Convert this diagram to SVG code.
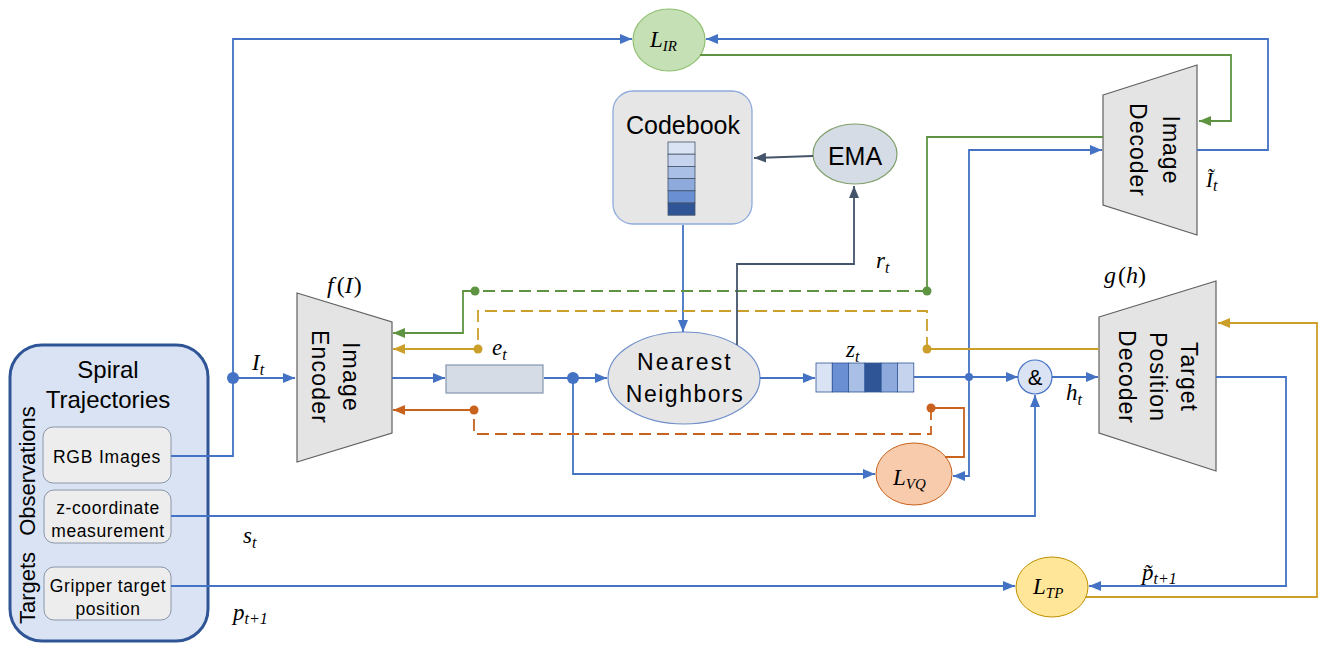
<svg xmlns="http://www.w3.org/2000/svg" width="1319" height="646" viewBox="0 0 1319 646">
<style>
.sans{font-family:"Liberation Sans",Arial,sans-serif;fill:#000}
.m{font-family:"Liberation Serif","Times New Roman",serif;font-style:italic;fill:#000}
.n{font-style:normal}
.b{fill:none;stroke:#4472c4;stroke-width:1.8}
.g{fill:none;stroke:#5e9441;stroke-width:1.8}
.y{fill:none;stroke:#cc9e2a;stroke-width:1.8}
.o{fill:none;stroke:#c8621c;stroke-width:1.8}
.k{fill:none;stroke:#44546a;stroke-width:1.8}
.d{stroke-dasharray:12 6}
.trap{fill:#e4e4e4;stroke:#606060;stroke-width:1.2}
.inbox{fill:#ededed;stroke:#8a96a8;stroke-width:1}
</style>
<defs>
<marker id="ab" markerUnits="userSpaceOnUse" markerWidth="12" markerHeight="10" refX="12" refY="5" orient="auto"><path d="M0,0 L12,5 L0,10 z" fill="#4472c4"/></marker>
<marker id="ag" markerUnits="userSpaceOnUse" markerWidth="12" markerHeight="10" refX="12" refY="5" orient="auto"><path d="M0,0 L12,5 L0,10 z" fill="#5e9441"/></marker>
<marker id="ay" markerUnits="userSpaceOnUse" markerWidth="12" markerHeight="10" refX="12" refY="5" orient="auto"><path d="M0,0 L12,5 L0,10 z" fill="#cc9e2a"/></marker>
<marker id="ao" markerUnits="userSpaceOnUse" markerWidth="12" markerHeight="10" refX="12" refY="5" orient="auto"><path d="M0,0 L12,5 L0,10 z" fill="#c8621c"/></marker>
<marker id="ak" markerUnits="userSpaceOnUse" markerWidth="12" markerHeight="10" refX="12" refY="5" orient="auto"><path d="M0,0 L12,5 L0,10 z" fill="#44546a"/></marker>
</defs>
<rect width="1319" height="646" fill="#ffffff"/>

<g id="spiral-trajectories">
  <rect x="10" y="345" width="198" height="296" rx="32" fill="#dae3f3" stroke="#2f5597" stroke-width="3"/>
  <text class="sans" x="108" y="378" font-size="24" text-anchor="middle">Spiral</text>
  <text class="sans" x="108" y="408" font-size="24" text-anchor="middle">Trajectories</text>
  <text class="sans" transform="translate(35,471) rotate(-90)" font-size="22" text-anchor="middle">Observations</text>
  <text class="sans" transform="translate(35,588) rotate(-90)" font-size="22" text-anchor="middle">Targets</text>
</g>
<g id="rgb-images">
  <rect class="inbox" x="43" y="427" width="128" height="56" rx="10"/>
  <text class="sans" x="107" y="463" font-size="17.5" letter-spacing="0.8" text-anchor="middle">RGB Images</text>
</g>
<g id="z-coordinate">
  <rect class="inbox" x="44" y="490" width="127" height="53" rx="10"/>
  <text class="sans" x="108" y="514" font-size="17.5" letter-spacing="0.6" text-anchor="middle">z-coordinate</text>
  <text class="sans" x="108" y="537" font-size="17.5" letter-spacing="0.6" text-anchor="middle">measurement</text>
</g>
<g id="gripper-target">
  <rect class="inbox" x="44" y="567" width="127" height="53" rx="10"/>
  <text class="sans" x="108" y="592" font-size="17.5" letter-spacing="0.6" text-anchor="middle">Gripper target</text>
  <text class="sans" x="108" y="615" font-size="17.5" letter-spacing="0.6" text-anchor="middle">position</text>
</g>

<g id="image-encoder">
  <polygon class="trap" points="297,293 392,322 392,433 297,462"/>
  <text class="sans" transform="translate(336,377) rotate(90)" font-size="23" letter-spacing="1.2" text-anchor="middle"><tspan x="0" y="-7">Image</tspan><tspan x="0" y="24">Encoder</tspan></text>
</g>

<g id="e-t">
  <rect x="446" y="365" width="97" height="28" fill="#d6dce5" stroke="#8497b0" stroke-width="1.2"/>
</g>

<g id="codebook">
  <rect x="613" y="91" width="139" height="133" rx="20" fill="#e7e6e6" stroke="#8faadc" stroke-width="1.3"/>
  <text class="sans" x="683" y="134" font-size="25" text-anchor="middle">Codebook</text>
  <g stroke="#44546a" stroke-width="0.8">
    <rect x="668" y="142" width="27" height="12.2" fill="#dae3f3"/>
    <rect x="668" y="154.2" width="27" height="12.2" fill="#c5d3ee"/>
    <rect x="668" y="166.4" width="27" height="12.2" fill="#a9bfe5"/>
    <rect x="668" y="178.6" width="27" height="12.2" fill="#8eaadc"/>
    <rect x="668" y="190.8" width="27" height="12.2" fill="#6a8fd3"/>
    <rect x="668" y="203" width="27" height="12.2" fill="#2f5597"/>
  </g>
</g>

<g id="ema">
  <ellipse cx="855" cy="154" rx="42" ry="30" fill="#d6dce5" stroke="#7f9f6a" stroke-width="1.2"/>
  <text class="sans" x="855" y="165" font-size="25" text-anchor="middle">EMA</text>
</g>

<g id="nearest-neighbors">
  <ellipse cx="684" cy="378" rx="76" ry="46" fill="#e7e6e6" stroke="#6f8fc9" stroke-width="1.2"/>
  <text class="sans" x="685" y="370" font-size="23" letter-spacing="2.2" text-anchor="middle">Nearest</text>
  <text class="sans" x="685" y="402" font-size="23" letter-spacing="1.5" text-anchor="middle">Neighbors</text>
</g>

<g id="z-t">
  <g stroke="#2f5597" stroke-width="0.8">
    <rect x="816" y="363" width="16.3" height="29" fill="#dae3f3"/>
    <rect x="832.3" y="363" width="16.3" height="29" fill="#6a8fd3"/>
    <rect x="848.6" y="363" width="16.3" height="29" fill="#a9bfe5"/>
    <rect x="864.9" y="363" width="16.3" height="29" fill="#2f5597"/>
    <rect x="881.2" y="363" width="16.3" height="29" fill="#8eaadc"/>
    <rect x="897.5" y="363" width="16.3" height="29" fill="#c5d3ee"/>
  </g>
</g>

<g id="concat">
  <circle cx="1035" cy="377" r="17" fill="#dae3f3" stroke="#4472c4" stroke-width="1.2"/>
  <text class="sans" x="1035" y="385" font-size="22" text-anchor="middle">&amp;</text>
</g>

<g id="image-decoder">
  <polygon class="trap" points="1103,95 1197,65 1197,235 1103,205"/>
  <text class="sans" transform="translate(1150,150) rotate(90)" font-size="23" letter-spacing="1" text-anchor="middle"><tspan x="0" y="-13">Image</tspan><tspan x="0" y="20">Decoder</tspan></text>
</g>

<g id="target-position-decoder">
  <polygon class="trap" points="1099,317 1216,281 1216,471 1099,433"/>
  <text class="sans" transform="translate(1150,377) rotate(90)" font-size="23" letter-spacing="1" text-anchor="middle"><tspan x="0" y="-31">Target</tspan><tspan x="0" y="0">Position</tspan><tspan x="0" y="31">Decoder</tspan></text>
</g>

<g id="l-ir">
  <ellipse cx="669" cy="40" rx="36" ry="31" fill="#c5e0b4" stroke="#8fbf6f" stroke-width="1.2"/>
  <text class="m" x="650" y="47" font-size="23">L<tspan font-size="15" dy="4">IR</tspan></text>
</g>
<g id="l-vq">
  <ellipse cx="914" cy="474" rx="38" ry="31" fill="#f8cbad" stroke="#c8621c" stroke-width="1"/>
  <text class="m" x="893" y="485" font-size="23">L<tspan font-size="15" dy="4">VQ</tspan></text>
</g>
<g id="l-tp">
  <ellipse cx="1052" cy="587" rx="36" ry="30" fill="#ffe699" stroke="#bf9000" stroke-width="1"/>
  <text class="m" x="1033" y="594" font-size="23">L<tspan font-size="15" dy="4">TP</tspan></text>
</g>

<g id="connectors">
  <!-- blue -->
  <path class="b" d="M171,456 H233 V39 H632" marker-end="url(#ab)"/>
  <path class="b" d="M233,378 H295" marker-end="url(#ab)"/>
  <path class="b" d="M392,378 H445" marker-end="url(#ab)"/>
  <path class="b" d="M544,378 H607" marker-end="url(#ab)"/>
  <path class="b" d="M573,378 V474 H875" marker-end="url(#ab)"/>
  <path class="b" d="M683,225 V332" marker-end="url(#ab)"/>
  <path class="b" d="M760,378 H815" marker-end="url(#ab)"/>
  <path class="b" d="M914,377 H1018" marker-end="url(#ab)"/>
  <path class="b" d="M969,377 V150 H1102" marker-end="url(#ab)"/>
  <path class="b" d="M969,377 V476 H953" marker-end="url(#ab)"/>
  <path class="b" d="M1052,377 H1098" marker-end="url(#ab)"/>
  <path class="b" d="M171,516 H1035 V395" marker-end="url(#ab)"/>
  <path class="b" d="M171,586 H1015" marker-end="url(#ab)"/>
  <path class="b" d="M1216,377 H1286 V586 H1089" marker-end="url(#ab)"/>
  <path class="b" d="M1197,150 H1268 V39 H706" marker-end="url(#ab)"/>
  <circle cx="233" cy="378" r="6" fill="#4472c4"/>
  <circle cx="573" cy="378" r="6" fill="#4472c4"/>
  <circle cx="969" cy="377" r="4" fill="#4472c4"/>
  <!-- green -->
  <path class="g" d="M700,55 H1231 V121 H1199" marker-end="url(#ag)"/>
  <path class="g" d="M1103,137 H927 V291"/>
  <path class="g d" d="M927,291 H475"/>
  <path class="g" d="M475,291 H463 V333 H393" marker-end="url(#ag)"/>
  <circle cx="927" cy="291" r="4.5" fill="#5e9441"/>
  <circle cx="475" cy="291" r="4.5" fill="#5e9441"/>
  <!-- yellow -->
  <path class="y" d="M1086,597 H1317 V323 H1218" marker-end="url(#ay)"/>
  <path class="y" d="M1099,349 H927"/>
  <path class="y d" d="M927,349 V311 H478 V349"/>
  <path class="y" d="M478,349 H393" marker-end="url(#ay)"/>
  <circle cx="927" cy="349" r="4.5" fill="#cc9e2a"/>
  <circle cx="478" cy="349" r="4.5" fill="#cc9e2a"/>
  <!-- orange -->
  <path class="o" d="M945,457 H964 V408 H931"/>
  <path class="o d" d="M931,408 V434 H474 V410"/>
  <path class="o" d="M474,410 H393" marker-end="url(#ao)"/>
  <circle cx="931" cy="408" r="4.5" fill="#c8621c"/>
  <circle cx="474" cy="410" r="4.5" fill="#c8621c"/>
  <!-- dark -->
  <path class="k" d="M737,345 V264 H854 V186" marker-end="url(#ak)"/>
  <path class="k" d="M813,156 L754,158" marker-end="url(#ak)"/>
</g>

<g id="labels">
  <text class="m" x="252" y="370" font-size="23">I<tspan font-size="16" dy="5">t</tspan></text>
  <text class="m" x="327" y="293" font-size="24">f<tspan class="n" dx="3">(</tspan>I<tspan class="n" dx="1">)</tspan></text>
  <text class="m" x="492" y="355" font-size="23">e<tspan font-size="16" dy="5">t</tspan></text>
  <text class="m" x="846" y="357" font-size="23">z<tspan font-size="16" dy="5">t</tspan></text>
  <text class="m" x="876" y="268" font-size="23">r<tspan font-size="16" dy="5">t</tspan></text>
  <text class="m" x="1104" y="283" font-size="24">g<tspan class="n" dx="2">(</tspan>h<tspan class="n">)</tspan></text>
  <text class="m" x="1066" y="400" font-size="23">h<tspan font-size="16" dy="5">t</tspan></text>
  <text class="m" x="1206" y="187" font-size="21">Ĩ<tspan font-size="16" dy="4">t</tspan></text>
  <text class="m" x="1142" y="580" font-size="23">p&#x303;<tspan font-size="16" dy="4">t+1</tspan></text>
  <text class="m" x="243" y="543" font-size="23">s<tspan font-size="16" dy="5">t</tspan></text>
  <text class="m" x="233" y="620" font-size="23">p<tspan font-size="16" dy="4">t+1</tspan></text>
</g>
</svg>
